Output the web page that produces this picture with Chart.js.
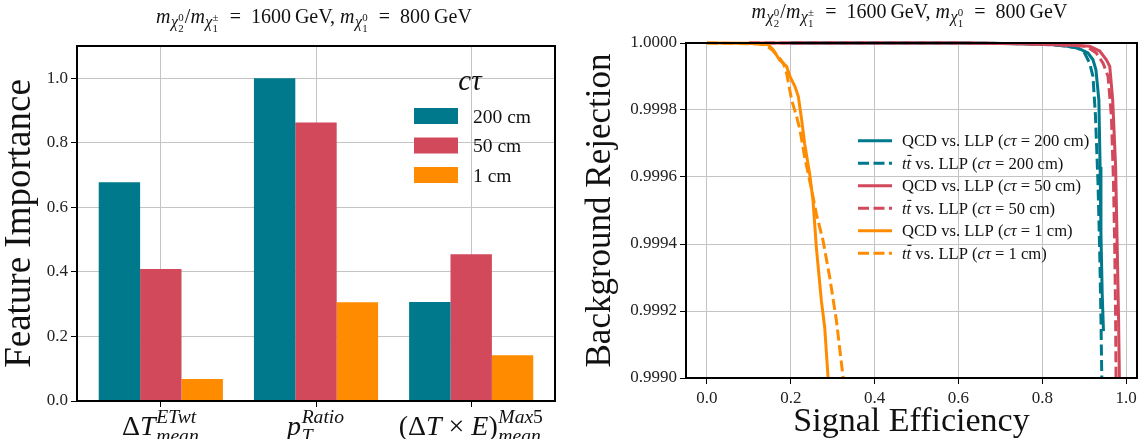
<!DOCTYPE html>
<html>
<head>
<meta charset="utf-8">
<script src="https://cdn.jsdelivr.net/npm/chart.js@4.4.1/dist/chart.umd.min.js"></script>
<style>
  html, body { margin: 0; padding: 0; background: #fff; }
  #wrap { position: relative; width: 1141px; height: 439px; overflow: hidden; }
  #left { position: absolute; left: 0; top: 0; }
  #right { position: absolute; left: 570px; top: 0; }
</style>
</head>
<body>
<div id="wrap">
  <canvas id="left" width="570" height="439"></canvas>
  <canvas id="right" width="571" height="439"></canvas>
</div>
<script>
// ---------- fonts & colours ----------
const FONT = "'Liberation Serif', 'DejaVu Serif', serif";
const TEAL = '#00798c', RED = '#d1495b', ORANGE = '#ff8c00';
const GRID = '#c4c4c4';
const INK = '#111';

// ---------- feature importance (left panel) ----------
const featurePositions = [0, 1, 2];
const importance200cm = [0.678, 1.000, 0.307];
const importance50cm  = [0.409, 0.863, 0.455];
const importance1cm   = [0.068, 0.306, 0.142];
const ctauLabels = ['200 cm', '50 cm', '1 cm'];
const importanceTicks = [0, 0.2, 0.4, 0.6, 0.8, 1.0];
// feature names as math runs: {t, it} text, {sup, sub} scripts
const featureLabels = [
  ['Δ', {t: 'T', it: true}, {sup: [{t: 'ETwt', it: true}], sub: [{t: 'mean', it: true}]}],
  [{t: 'p', it: true}, {sup: [{t: 'Ratio', it: true}], sub: [{t: 'T', it: true}]}],
  ['(Δ', {t: 'T', it: true}, ' × ', {t: 'E', it: true}, ')', {sup: [{t: 'Max', it: true}, '5'], sub: [{t: 'mean', it: true}]}]
];

// ---------- ROC curves (right panel) ----------
const effTicks = [0, 0.2, 0.4, 0.6, 0.8, 1.0];
const rejTicks = [0.999, 0.9992, 0.9994, 0.9996, 0.9998, 1.0];

const effQcd200 = [0.20, 0.60, 0.75, 0.82, 0.86, 0.88, 0.893, 0.909, 0.921, 0.928, 0.935, 0.938, 0.940, 0.943, 0.946];
const rejQcd200 = [1.0, 1.0, 0.999998, 0.999996, 0.99999, 0.999986, 0.99998, 0.99997, 0.99995, 0.99992, 0.99983, 0.99963, 0.99943, 0.99925, 0.99914];
const effTt200  = [0.20, 0.60, 0.75, 0.82, 0.86, 0.885, 0.901, 0.913, 0.921, 0.927, 0.933, 0.937, 0.940, 0.942];
const rejTt200  = [1.0, 1.0, 0.999998, 0.999995, 0.99999, 0.999985, 0.99997, 0.99994, 0.99990, 0.99978, 0.99958, 0.99938, 0.99918, 0.99900];

const effQcd50 = [0.10, 0.60, 0.75, 0.80, 0.873, 0.913, 0.937, 0.953, 0.961, 0.968, 0.975, 0.979, 0.982, 0.984];
const rejQcd50 = [1.0, 1.0, 0.999998, 0.999996, 0.999993, 0.99999, 0.999976, 0.99995, 0.99993, 0.99983, 0.99963, 0.99938, 0.99918, 0.99900];
const effTt50  = [0.10, 0.60, 0.75, 0.80, 0.87, 0.905, 0.929, 0.945, 0.957, 0.965, 0.970, 0.973, 0.975, 0.976];
const rejTt50  = [1.0, 1.0, 0.999998, 0.999996, 0.999993, 0.99999, 0.99997, 0.99994, 0.99990, 0.99978, 0.99958, 0.99938, 0.99918, 0.99900];

const effQcd1 = [0.0, 0.10, 0.13, 0.146, 0.158, 0.173, 0.19, 0.198, 0.21, 0.218, 0.226, 0.233, 0.245, 0.253, 0.261, 0.273, 0.281, 0.289];
const rejQcd1 = [1.0, 0.999999, 0.999998, 0.999995, 0.99998, 0.99995, 0.99993, 0.99990, 0.99987, 0.99984, 0.99977, 0.99970, 0.99961, 0.99953, 0.99939, 0.99923, 0.99915, 0.99900];
const effTt1  = [0.0, 0.12, 0.14, 0.155, 0.17, 0.182, 0.19, 0.202, 0.214, 0.222, 0.233, 0.25, 0.261, 0.277, 0.293, 0.309, 0.325];
const rejTt1  = [1.0, 0.999997, 0.999994, 0.99998, 0.99996, 0.99994, 0.99991, 0.99983, 0.99978, 0.99974, 0.99966, 0.99956, 0.99949, 0.99941, 0.99930, 0.99917, 0.99900];

// en spaces give the relation sign its math-mode breathing room
const EQ = '\u2002=\u2002';
const massTitle = [
  {t: 'm', it: true}, {sub: [{t: 'χ', it: true}, {sup: ['0'], sub: ['2']}]},
  '/', {t: 'm', it: true}, {sub: [{t: 'χ', it: true}, {sup: ['±'], sub: ['1']}]},
  EQ + '1600\u2009GeV, ', {t: 'm', it: true}, {sub: [{t: 'χ', it: true}, {sup: ['0'], sub: ['1']}]},
  EQ + '800\u2009GeV'
];

function rocLabel(kind, ctau) {
  const head = kind === 'QCD'
    ? ['QCD']
    : [{t: 't', it: true}, {t: 't', it: true, bar: true}];
  return head.concat([' vs. LLP (', {t: 'cτ', it: true}, ' = ' + ctau + ')']);
}

// ---------- small math-text renderer ----------
// scales[i] is the size factor applied when entering script level i+1
function drawRich(ctx, nodes, x, y, size, draw, scales, level) {
  const sc = scales || [0.7, 0.7];
  const lv = level || 0;
  let cx = x;
  for (const n of nodes) {
    if (typeof n === 'string' || n.t !== undefined) {
      const txt = typeof n === 'string' ? n : n.t;
      const it = typeof n === 'object' && n.it;
      ctx.font = (it ? 'italic ' : '') + size.toFixed(2) + 'px ' + FONT;
      const w = ctx.measureText(txt).width;
      if (draw) {
        ctx.fillText(txt, cx, y);
        if (n.bar) {
          ctx.save();
          ctx.strokeStyle = ctx.fillStyle;
          ctx.lineWidth = Math.max(1, size * 0.055);
          const by = y - size * 0.8;
          ctx.beginPath();
          ctx.moveTo(cx + w * 0.15, by);
          ctx.lineTo(cx + w * 1.05, by);
          ctx.stroke();
          ctx.restore();
        }
      }
      cx += w;
    } else {
      const s = size * sc[Math.min(lv, sc.length - 1)];
      const both = n.sup && n.sub;
      let w1 = 0, w2 = 0;
      if (n.sup) w1 = drawRich(ctx, n.sup, cx + size * 0.02, y - size * 0.42, s, draw, sc, lv + 1);
      if (n.sub) w2 = drawRich(ctx, n.sub, cx + size * 0.02, y + size * (both ? 0.26 : 0.22), s, draw, sc, lv + 1);
      cx += Math.max(w1, w2) + size * 0.05;
    }
  }
  return cx - x;
}
function drawRichCentered(ctx, nodes, cx, y, size, scales) {
  const w = drawRich(ctx, nodes, 0, 0, size, false, scales);
  drawRich(ctx, nodes, cx - w / 2, y, size, true, scales);
}

// ---------- shared plugins ----------
const framePlugin = {
  id: 'frame',
  afterDraw(chart) {
    const {ctx, chartArea: a} = chart;
    ctx.save();
    ctx.strokeStyle = '#000';
    ctx.lineWidth = 2;
    ctx.strokeRect(a.left, a.top, a.right - a.left, a.bottom - a.top);
    ctx.restore();
  }
};
function titlePlugin(baseline) {
  return {
    id: 'massTitle',
    afterDraw(chart) {
      const {ctx, chartArea: a} = chart;
      ctx.save();
      ctx.fillStyle = INK;
      ctx.textAlign = 'left';
      ctx.textBaseline = 'alphabetic';
      drawRichCentered(ctx, massTitle, (a.left + a.right) / 2 - 2, baseline, 20, [0.8, 0.68]);
      ctx.restore();
    }
  };
}

function gridOpts() {
  return {color: GRID, lineWidth: 1, drawTicks: true, tickLength: 6, tickColor: '#000', tickWidth: 1};
}
const tickFont = {family: FONT, size: 17};

// ---------- left panel: grouped bars ----------
const barSeries = [importance200cm, importance50cm, importance1cm];
const barColors = [TEAL, RED, ORANGE];

new Chart(document.getElementById('left'), {
  type: 'bar',
  data: {
    datasets: barSeries.map((vals, k) => ({
      label: ctauLabels[k],
      data: vals.map((v, i) => ({x: featurePositions[i], y: v})),
      backgroundColor: barColors[k],
      borderWidth: 0,
      categoryPercentage: 0.8,
      barPercentage: 1.0
    }))
  },
  options: {
    responsive: false,
    animation: false,
    layout: {padding: {left: 0, top: 46, right: 15, bottom: 0}},
    plugins: {legend: {display: false}, tooltip: {enabled: false}},
    scales: {
      x: {
        type: 'linear', min: -0.54, max: 2.54, offset: false, z: 1,
        grid: Object.assign(gridOpts(), {offset: false}),
        border: {display: false},
        ticks: {display: false},
        afterBuildTicks: s => { s.ticks = featurePositions.map(v => ({value: v})); },
        afterFit: s => { s.height = 38; }
      },
      y: {
        type: 'linear', min: 0, max: 1.1,
        grid: gridOpts(),
        border: {display: false},
        ticks: {font: tickFont, color: '#222', padding: 3, callback: v => v.toFixed(1)},
        afterBuildTicks: s => { s.ticks = importanceTicks.map(v => ({value: v})); },
        afterFit: s => { s.width = 77; },
        title: {display: true, text: 'Feature Importance', color: INK,
                font: {family: FONT, size: 37, lineHeight: 1}, padding: {top: 2, bottom: 0}}
      }
    }
  },
  plugins: [
    framePlugin,
    titlePlugin(23),
    {
      id: 'featureLabels',
      afterDraw(chart) {
        const {ctx, chartArea: a, scales} = chart;
        ctx.save();
        ctx.fillStyle = INK;
        ctx.textAlign = 'left';
        ctx.textBaseline = 'alphabetic';
        featureLabels.forEach((nodes, i) => {
          drawRichCentered(ctx, nodes, scales.x.getPixelForValue(featurePositions[i]), a.bottom + 34, 28);
        });
        ctx.restore();
      }
    },
    {
      id: 'ctauLegend',
      afterDraw(chart) {
        const {ctx, chartArea: a} = chart;
        ctx.save();
        ctx.fillStyle = INK;
        ctx.textAlign = 'left';
        ctx.textBaseline = 'alphabetic';
        drawRichCentered(ctx, [{t: 'cτ', it: true}], a.right - 85, a.top + 44, 29);
        chart.data.datasets.forEach((ds, i) => {
          const yc = a.top + 70 + i * 29.5;
          ctx.fillStyle = ds.backgroundColor;
          ctx.fillRect(a.right - 141, yc - 8, 44, 16);
          ctx.fillStyle = INK;
          ctx.font = '19.5px ' + FONT;
          ctx.textBaseline = 'alphabetic';
          ctx.fillText(ds.label, a.right - 82, yc + 6.5);
        });
        ctx.restore();
      }
    }
  ]
});

// ---------- right panel: ROC curves ----------
const rocSeries = [
  {eff: effQcd200, rej: rejQcd200, color: TEAL,   dashed: false, label: rocLabel('QCD', '200 cm')},
  {eff: effTt200,  rej: rejTt200,  color: TEAL,   dashed: true,  label: rocLabel('tt',  '200 cm')},
  {eff: effQcd50,  rej: rejQcd50,  color: RED,    dashed: false, label: rocLabel('QCD', '50 cm')},
  {eff: effTt50,   rej: rejTt50,   color: RED,    dashed: true,  label: rocLabel('tt',  '50 cm')},
  {eff: effQcd1,   rej: rejQcd1,   color: ORANGE, dashed: false, label: rocLabel('QCD', '1 cm')},
  {eff: effTt1,    rej: rejTt1,    color: ORANGE, dashed: true,  label: rocLabel('tt',  '1 cm')}
];
const DASH = [11, 4.5];
const LW = 3;

new Chart(document.getElementById('right'), {
  type: 'line',
  data: {
    datasets: rocSeries.map((s, k) => ({
      data: s.eff.map((x, i) => ({x: x, y: s.rej[i]})),
      borderColor: s.color,
      borderWidth: LW,
      borderDash: s.dashed ? DASH : [],
      borderCapStyle: 'butt',
      pointRadius: 0,
      tension: 0,
      fill: false,
      clip: 4,
      order: rocSeries.length - k
    }))
  },
  options: {
    responsive: false,
    animation: false,
    layout: {padding: {left: 0, top: 43, right: 4, bottom: 0}},
    plugins: {legend: {display: false}, tooltip: {enabled: false}},
    scales: {
      x: {
        type: 'linear', min: -0.05, max: 1.026,
        grid: gridOpts(),
        border: {display: false},
        ticks: {font: tickFont, color: '#222', padding: 4, maxRotation: 0, autoSkip: false, callback: v => v.toFixed(1)},
        afterBuildTicks: s => { s.ticks = effTicks.map(v => ({value: v})); },
        afterFit: s => { s.height = 61; },
        title: {display: true, text: 'Signal Efficiency', color: INK,
                font: {family: FONT, size: 34, lineHeight: 1}, padding: {top: 0, bottom: 0}}
      },
      y: {
        type: 'linear', min: 0.999, max: 1.0,
        grid: gridOpts(),
        border: {display: false},
        ticks: {font: tickFont, color: '#222', padding: 3, autoSkip: false, callback: v => v.toFixed(4)},
        afterBuildTicks: s => { s.ticks = rejTicks.map(v => ({value: v})); },
        afterFit: s => { s.width = 116; },
        title: {display: true, text: 'Background Rejection', color: INK,
                font: {family: FONT, size: 35, lineHeight: 1}, padding: {top: 13, bottom: 0}}
      }
    }
  },
  plugins: [
    framePlugin,
    titlePlugin(18),
    {
      id: 'rocLegend',
      afterDraw(chart) {
        const {ctx, chartArea: a} = chart;
        ctx.save();
        ctx.textAlign = 'left';
        ctx.textBaseline = 'alphabetic';
        rocSeries.forEach((s, i) => {
          const yc = a.top + 97.7 + i * 22.5;
          ctx.strokeStyle = s.color;
          ctx.lineWidth = LW;
          ctx.lineCap = 'butt';
          ctx.setLineDash(s.dashed ? DASH : []);
          ctx.beginPath();
          ctx.moveTo(a.left + 172, yc);
          ctx.lineTo(a.left + 206, yc);
          ctx.stroke();
          ctx.setLineDash([]);
          ctx.fillStyle = INK;
          drawRich(ctx, s.label, a.left + 216, yc + 5.5, 16.6, true);
        });
        ctx.restore();
      }
    }
  ]
});
</script>
</body>
</html>
